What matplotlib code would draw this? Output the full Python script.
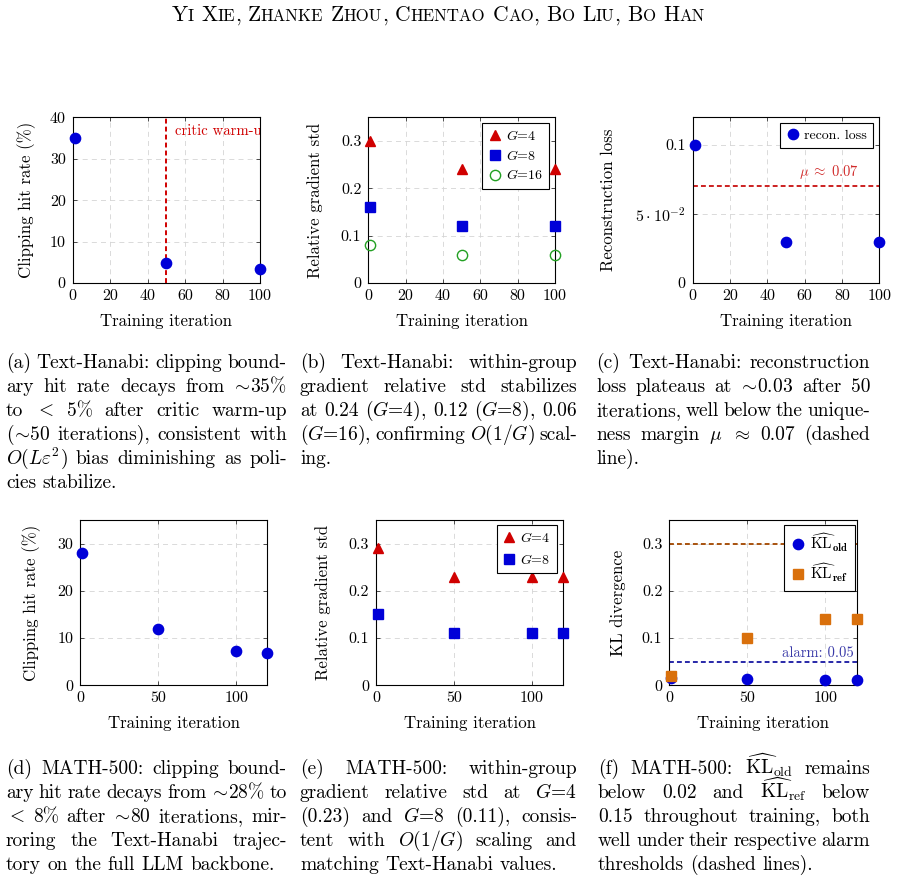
import matplotlib
matplotlib.use('Agg')
import matplotlib.pyplot as plt
from matplotlib.ticker import FixedLocator, FuncFormatter, FixedFormatter

plt.rcParams.update({
    'font.family': 'serif', 'font.serif': ['cmr10'], 'mathtext.fontset': 'cm',
    'axes.formatter.use_mathtext': True,
})

# ---------------- data ----------------
iters_hanabi = [1, 50, 100]
clip_hanabi = [35, 4.8, 3.4]
warmup_iter = 50
std_hanabi_g4 = [0.30, 0.24, 0.24]
std_hanabi_g8 = [0.16, 0.12, 0.12]
std_hanabi_g16 = [0.08, 0.06, 0.06]
recon_loss = [0.10, 0.03, 0.03]
mu_margin = 0.07
iters_math = [1, 50, 100, 120]
clip_math = [28, 12, 7.2, 6.8]
std_math_g4 = [0.29, 0.23, 0.23, 0.23]
std_math_g8 = [0.15, 0.11, 0.11, 0.11]
kl_old = [0.015, 0.014, 0.011, 0.011]
kl_ref = [0.02, 0.10, 0.14, 0.14]
kl_ref_alarm = 0.30
kl_old_alarm = 0.05

W, H, DPI = 898, 882, 100
fig = plt.figure(figsize=(W / DPI, H / DPI), dpi=DPI)
renderer = fig.canvas.get_renderer()

BLUE = '#0000d8'
RED = '#d00000'
GREEN = '#22a022'
ORANGE = '#d9700c'
GRIDC = '#d4d4d4'
TICK = 11.5
LAB = 12.1


def px_axes(l, t, r, b):
    return fig.add_axes([l / W, 1 - b / H, (r - l) / W, (b - t) / H])


def style(ax, xlim, ylim, xticks, yticks, ylabel, ylab_off, yfmt=None):
    ax.set_xlim(*xlim)
    ax.set_ylim(*ylim)
    ax.xaxis.set_major_locator(FixedLocator(xticks))
    ax.yaxis.set_major_locator(FixedLocator(yticks))
    ax.xaxis.set_major_formatter(FuncFormatter(lambda v, p: f"{v:g}"))
    if yfmt is None:
        ax.yaxis.set_major_formatter(FuncFormatter(lambda v, p: f"{v:g}"))
    else:
        ax.yaxis.set_major_formatter(FixedFormatter(yfmt))
    ax.tick_params(direction='in', top=True, right=True, length=3, width=0.6,
                   color='#333333', labelsize=TICK)
    ax.tick_params(axis='x', pad=4.5)
    ax.tick_params(axis='y', pad=5)
    for s in ax.spines.values():
        s.set_linewidth(0.8)
        s.set_color('black')
    ax.grid(True, ls=(0, (6, 5)), color=GRIDC, lw=0.6)
    ax.set_axisbelow(True)
    ax.set_xlabel('Training iteration', fontsize=LAB, va='center')
    ax.xaxis.set_label_coords(0.5, -38.5 / 166)
    ax.set_ylabel(ylabel, fontsize=LAB, va='center', ha='center')
    bb = ax.get_position()
    ax.yaxis.set_label_coords(-ylab_off / (bb.width * W), 0.5)


def leg(ax, fx, fy, size=10, spacing=0.45):
    lg = ax.legend(loc='upper right', bbox_to_anchor=(fx, fy), fontsize=size,
                   frameon=True, fancybox=False, framealpha=1, edgecolor='black',
                   borderpad=0.45, handlelength=0.9, handletextpad=0.35,
                   labelspacing=spacing, borderaxespad=0)
    lg.get_frame().set_linewidth(0.8)
    return lg


MS_C, MS_S, MS_T = 7.4, 6.5, 7.2

# (a)
ax = px_axes(72.7, 117.3, 260, 283)
ax.plot(iters_hanabi, clip_hanabi, 'o', ms=MS_C, color=BLUE, clip_on=False, zorder=3)
ax.axvline(warmup_iter, color=RED, ls=(0, (2.5, 1.6)), lw=1.4, zorder=2)
ax.text(54.6, 36.7, 'critic warm-up', color=RED, fontsize=10.6, va='center',
        ha='left', clip_on=True)
style(ax, (0, 100), (0, 40), [0, 20, 40, 60, 80, 100], [0, 10, 20, 30, 40],
      'Clipping hit rate (%)', 46)

# (b)
ax = px_axes(368.3, 117.3, 555, 283)
ax.plot(iters_hanabi, std_hanabi_g4, '^', ms=MS_T, color=RED, clip_on=False, label='$G$=4', zorder=3)
ax.plot(iters_hanabi, std_hanabi_g8, 's', ms=MS_S, color=BLUE, clip_on=False, label='$G$=8', zorder=3)
ax.plot(iters_hanabi, std_hanabi_g16, 'o', ms=MS_C, mfc='none', mec=GREEN, mew=1.0,
        clip_on=False, label='$G$=16', zorder=3)
style(ax, (0, 100), (0, 0.35), [0, 20, 40, 60, 80, 100], [0, 0.1, 0.2, 0.3],
      'Relative gradient std', 53)
leg(ax, 0.968, 0.9656, spacing=0.4)

# (c)
ax = px_axes(692.7, 117.3, 879.3, 283)
ax.plot(iters_hanabi, recon_loss, 'o', ms=MS_C, color=BLUE, clip_on=False,
        label='recon. loss', zorder=3)
ax.axhline(mu_margin, color='#cc2020', ls=(0, (2.5, 1.6)), lw=1.4, zorder=2)
ax.annotate(r'$\mu\;\approx\;0.07$', (89, mu_margin), xytext=(0, 4), textcoords='offset points',
            color='#d02a2a', fontsize=10.5, ha='right', va='bottom')
style(ax, (0, 100), (0, 0.12), [0, 20, 40, 60, 80, 100], [0, 0.05, 0.1],
      'Reconstruction loss', 84.7, yfmt=['0', r'$5\cdot10^{-2}$', '0.1'])
leg(ax, 0.966, 0.9656)

# (d)
ax = px_axes(80.3, 520, 267.3, 685.3)
ax.plot(iters_math, clip_math, 'o', ms=MS_C, color=BLUE, clip_on=False, zorder=3)
style(ax, (0, 120), (0, 35), [0, 50, 100], [0, 10, 20, 30],
      'Clipping hit rate (%)', 48.6)

# (e)
ax = px_axes(376, 520, 563.3, 685.3)
ax.plot(iters_math, std_math_g4, '^', ms=MS_T, color=RED, clip_on=False, label='$G$=4', zorder=3)
ax.plot(iters_math, std_math_g8, 's', ms=MS_S, color=BLUE, clip_on=False, label='$G$=8', zorder=3)
style(ax, (0, 120), (0, 0.35), [0, 50, 100], [0, 0.1, 0.2, 0.3],
      'Relative gradient std', 53)
leg(ax, 0.966, 0.97, spacing=0.55)

# (f)
ax = px_axes(669.3, 520, 856.7, 685.3)
ax.plot(iters_math, kl_old, 'o', ms=MS_C, color=BLUE, clip_on=False,
        label=r'$\widehat{\mathrm{KL}}_{\mathbf{old}}$', zorder=3)
ax.plot(iters_math, kl_ref, 's', ms=MS_S, color=ORANGE, clip_on=False,
        label=r'$\widehat{\mathrm{KL}}_{\mathbf{ref}}$', zorder=3)
ax.axhline(kl_ref_alarm, color='#a8520e', ls=(0, (2.5, 1.6)), lw=1.4, zorder=2)
ax.axhline(kl_old_alarm, color='#2828a8', ls=(0, (2.5, 1.6)), lw=1.4, zorder=2)
ax.annotate('alarm: 0.05', (117.8, kl_old_alarm), xytext=(0, 1.5), textcoords='offset points',
            color='#3a3aa8', fontsize=10.5, ha='right', va='bottom')
style(ax, (0, 120), (0, 0.35), [0, 50, 100], [0, 0.1, 0.2, 0.3],
      'KL divergence', 51)
leg(ax, 0.991, 0.97, size=11, spacing=0.5)

# ---------------- captions ----------------
CAP = 14


def measure(s, size):
    t = fig.text(0, 0, s, fontsize=size)
    w = t.get_window_extent(renderer).width
    t.remove()
    return w


def jline(s, x0, x1, yb, justify=True, size=CAP):
    words = s.split(' ')
    widths = [measure(w, size) for w in words]
    if justify and len(words) > 1:
        gap = ((x1 - x0) - sum(widths)) / (len(words) - 1)
    else:
        gap = 0.333 * size * DPI / 72
    x = x0
    for w, wd in zip(words, widths):
        fig.text(x / W, 1 - yb / H, w, fontsize=size, va='baseline', ha='left')
        x += wd + gap


def caption(lines, x0, x1, y0):
    for i, ln in enumerate(lines):
        jline(ln, x0, x1, y0 + 24 * i, justify=(i < len(lines) - 1))


SIM = r"$\!\sim\!$"
caption(["(a) Text-Hanabi: clipping bound-",
         "ary hit rate decays from " + SIM + "35%",
         r"to $<$ 5% after critic warm-up",
         "(" + SIM + "50 iterations), consistent with",
         r"$O(L\varepsilon^2)$ bias diminishing as poli-",
         "cies stabilize."], 6, 287, 368)
caption(["(b) Text-Hanabi: within-group",
         "gradient relative std stabilizes",
         r"at 0.24 ($G$=4), 0.12 ($G$=8), 0.06",
         r"($G$=16), confirming $O(1/G)$ scal-",
         "ing."], 300, 577, 368)
caption(["(c) Text-Hanabi: reconstruction",
         "loss plateaus at " + SIM + "0.03 after 50",
         "iterations, well below the unique-",
         r"ness margin $\mu$ $\approx$ 0.07 (dashed",
         "line)."], 596, 870, 368)
caption(["(d) MATH-500: clipping bound-",
         "ary hit rate decays from " + SIM + "28% to",
         r"$<$ 8% after " + SIM + "80 iterations, mir-",
         "roring the Text-Hanabi trajec-",
         "tory on the full LLM backbone."], 6, 287, 774)
caption(["(e) MATH-500: within-group",
         r"gradient relative std at $G$=4",
         r"(0.23) and $G$=8 (0.11), consis-",
         r"tent with $O(1/G)$ scaling and",
         "matching Text-Hanabi values."], 300, 577, 774)
caption([r"(f) MATH-500: $\widehat{\mathrm{KL}}_{\mathrm{old}}$ remains",
         r"below 0.02 and $\widehat{\mathrm{KL}}_{\mathrm{ref}}$ below",
         "0.15 throughout training, both",
         "well under their respective alarm",
         "thresholds (dashed lines)."], 598, 870, 774)

# ---------------- header (small caps) ----------------
BIG, SMALL = 15.5, 12.1
hwords = ["Yi", "Xie,", "Zhanke", "Zhou,", "Chentao", "Cao,", "Bo", "Liu,", "Bo", "Han"]
pieces = []
for wi, wd in enumerate(hwords):
    core = wd.rstrip(',')
    pieces.append((core[0], BIG))
    if len(core) > 1:
        pieces.append((core[1:].upper(), SMALL))
    if wd.endswith(','):
        pieces.append((',', BIG))
    if wi < len(hwords) - 1:
        pieces.append((' ', BIG))
space_w = 0.333 * BIG * DPI / 72
widths = [space_w if s == ' ' else measure(s, sz) for s, sz in pieces]
total = sum(widths)
x = 438 - total / 2
for (s, sz), wdt in zip(pieces, widths):
    if s != ' ':
        fig.text(x / W, 1 - 21 / H, s, fontsize=sz, va='baseline', ha='left')
    x += wdt

fig.savefig('out.png', dpi=DPI)
